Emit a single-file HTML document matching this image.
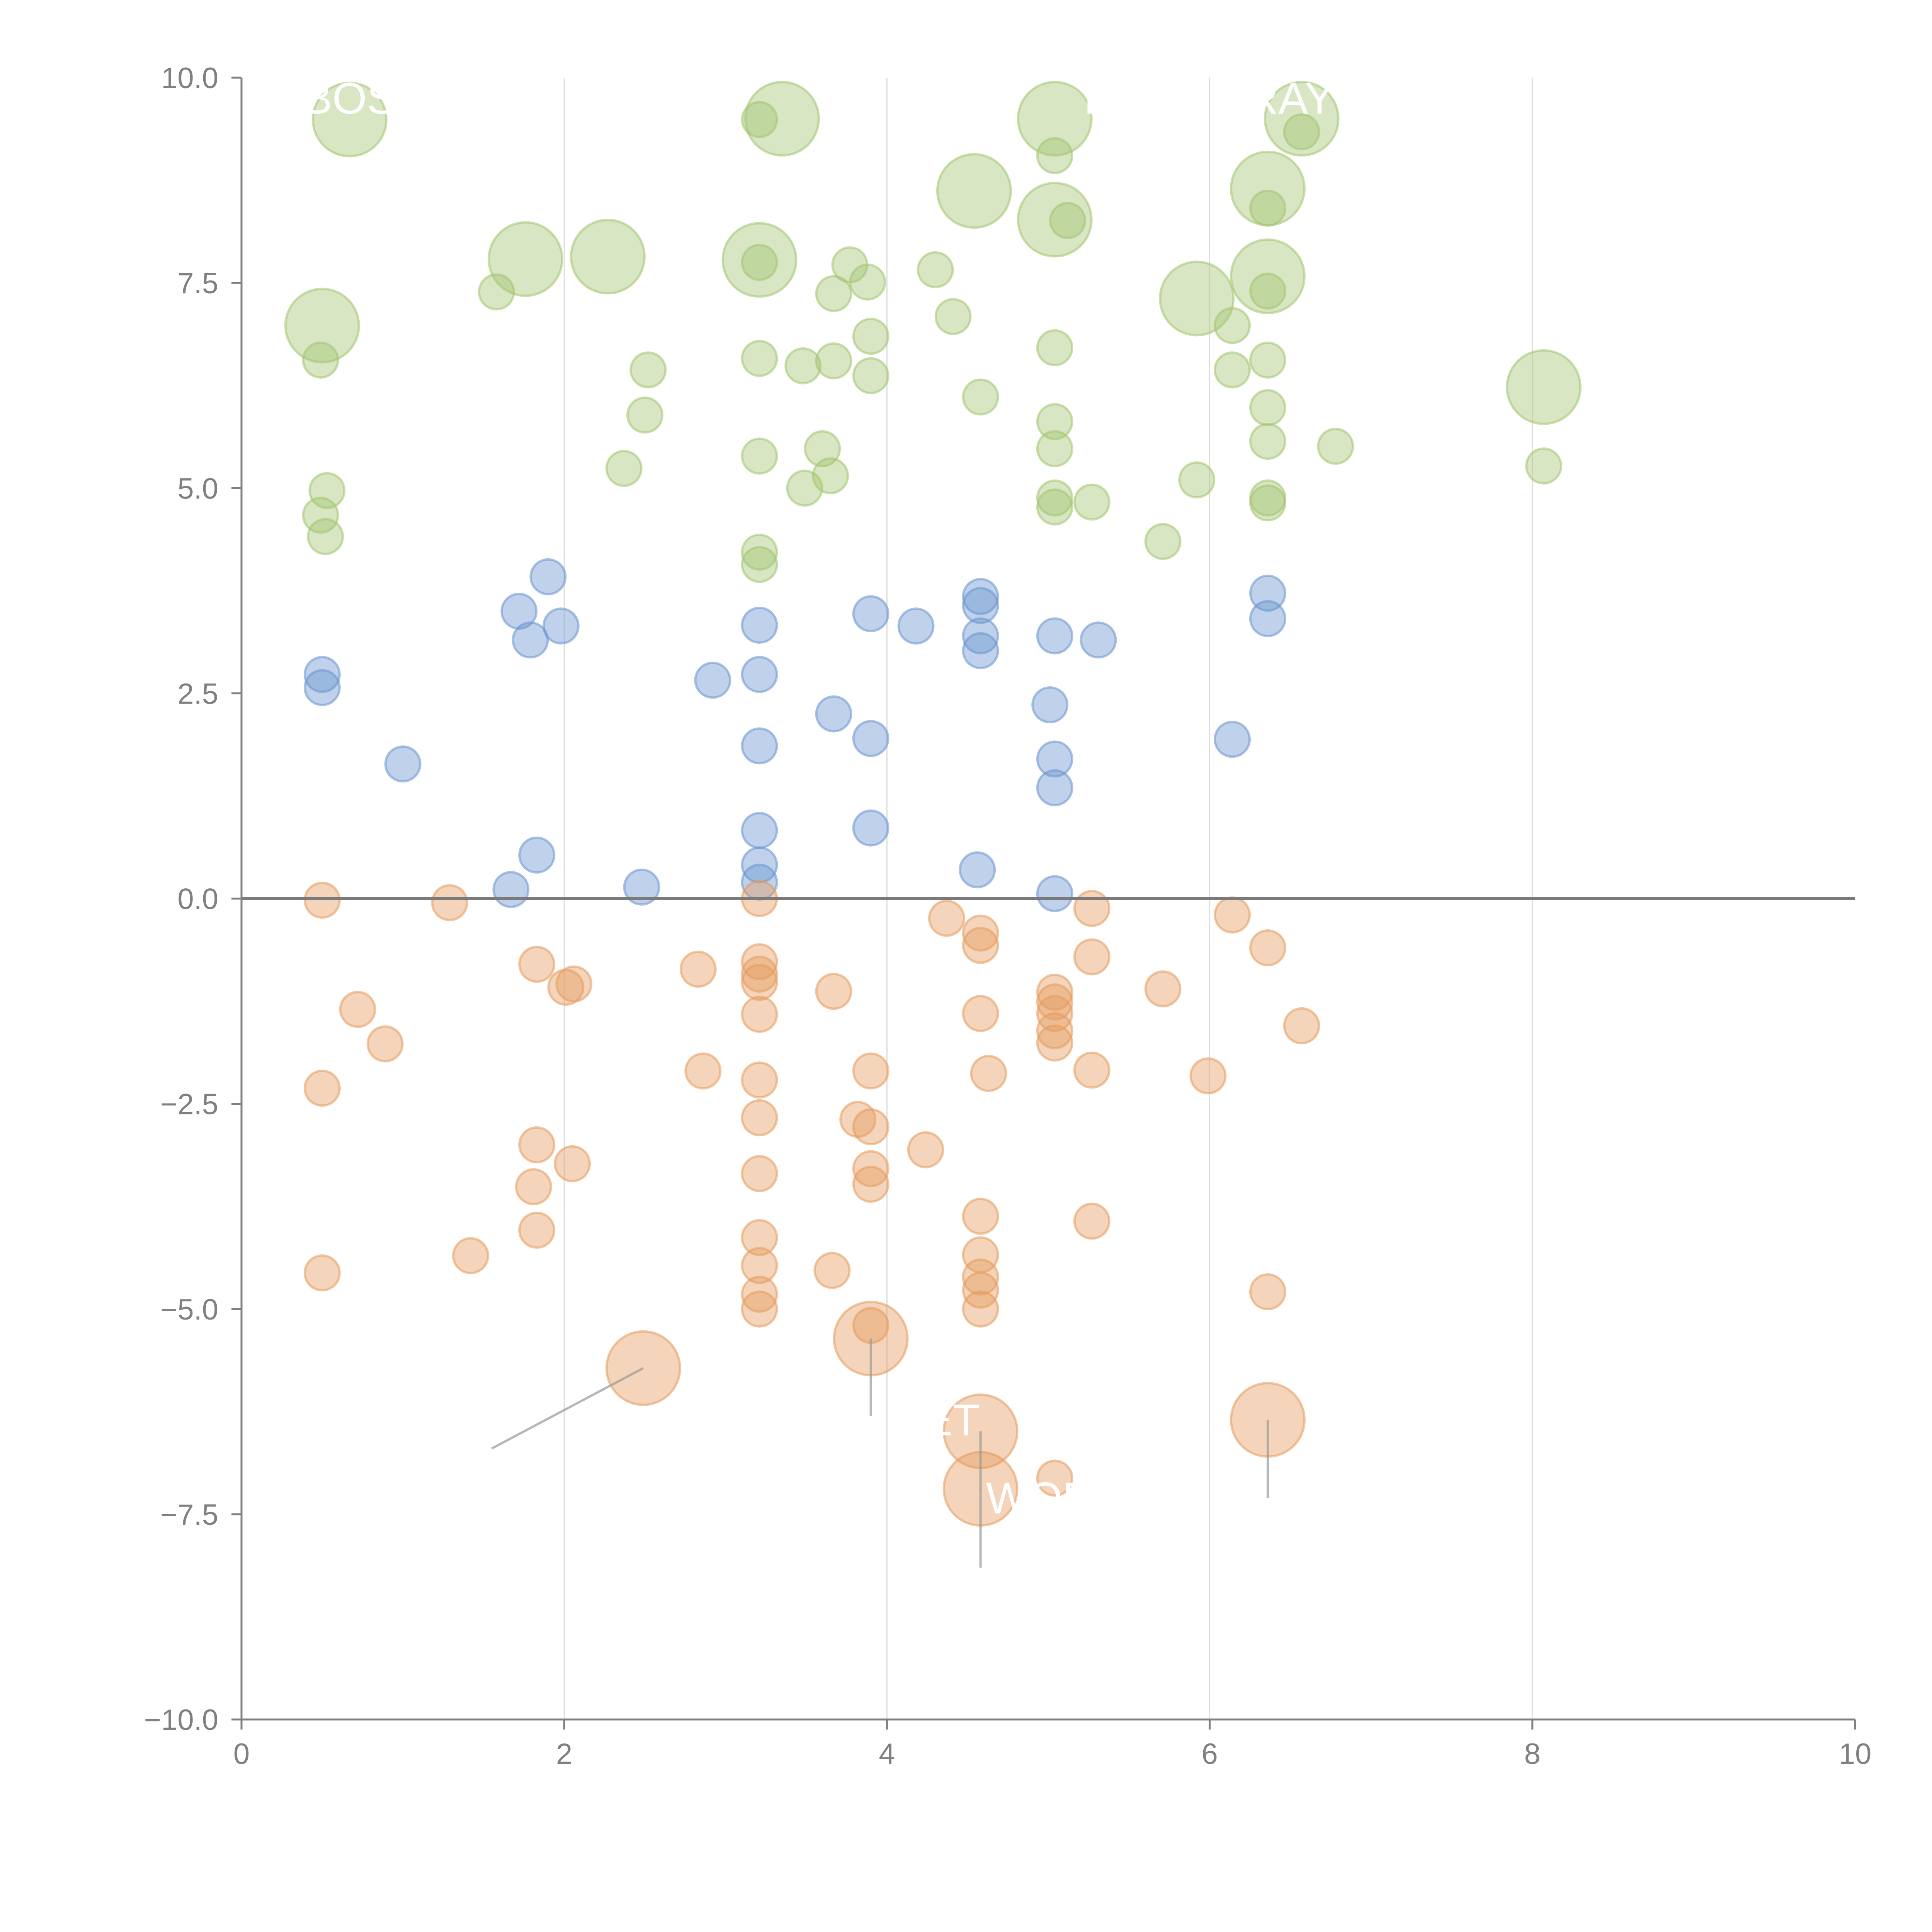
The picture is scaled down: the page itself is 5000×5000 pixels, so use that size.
<!DOCTYPE html>
<html><head><meta charset="utf-8"><style>
html,body{margin:0;padding:0;background:#fff;}
svg{display:block;}
text{font-family:"Liberation Sans",Arial,sans-serif;}
</style></head><body>
<svg id="chart" width="5000" height="5000" viewBox="0 0 5000 5000" xmlns="http://www.w3.org/2000/svg">
<g id="grid"></g>
<g id="marks"></g>
<g id="leaders"></g>
<g id="axes"></g>
<g id="labels"></g>
</svg>
<script>
const xTicks=[0,2,4,6,8,10];
const yTicks=[10,7.5,5,2.5,0,-2.5,-5,-7.5,-10];
const yTickLabels=["10.0","7.5","5.0","2.5","0.0","\u22122.5","\u22125.0","\u22127.5","\u221210.0"];
const xTickLabels=["0","2","4","6","8","10"];

const greenX=[0.49,0.53,0.49,0.52,1.58,2.52,2.50,2.37,3.21,3.21,3.21,3.21,3.21,3.21,3.48,3.49,3.6,3.65,3.67,3.67,3.77,3.88,3.9,3.9,4.3,4.41,4.58,5.04,5.12,5.04,5.04,5.04,5.04,5.04,5.27,5.71,5.92,6.14,6.14,6.36,6.36,6.36,6.36,6.36,6.36,6.36,6.57,6.78,8.07,
 0.67,0.5,1.76,2.27,3.21,3.35,4.54,5.04,5.04,5.92,6.36,6.36,6.57,8.07];
const greenY=[6.56,4.97,4.67,4.41,7.39,6.44,5.89,5.24,7.75,9.49,6.58,5.39,4.22,4.07,6.49,5.0,5.48,5.15,7.37,6.55,7.72,7.51,6.85,6.37,7.66,7.09,6.11,9.05,8.26,6.71,5.81,5.48,4.88,4.77,4.83,4.35,5.1,6.98,6.44,8.41,7.4,6.56,5.98,5.57,4.88,4.82,9.34,5.51,5.27,
 9.49,6.98,7.79,7.82,7.78,9.5,8.62,9.5,8.27,7.31,8.65,7.58,9.5,6.23];
const greenSize=[1,1,1,1,1,1,1,1,1,1,1,1,1,1,1,1,1,1,1,1,1,1,1,1,1,1,1,1,1,1,1,1,1,1,1,1,1,1,1,1,1,1,1,1,1,1,1,1,1,
 2,2,2,2,2,2,2,2,2,2,2,2,2,2];

const blueX=[0.5,0.5,1.0,1.72,1.79,1.9,1.98,1.67,1.83,2.48,2.92,3.21,3.21,3.21,3.21,3.21,3.21,3.67,3.9,3.9,3.9,4.18,4.58,4.58,4.58,4.58,4.56,5.01,5.04,5.04,5.04,5.04,5.31,6.14,6.36,6.36];
const blueY=[2.73,2.57,1.64,3.5,3.15,3.92,3.32,0.11,0.53,0.14,2.66,3.33,2.73,1.86,0.83,0.41,0.2,2.25,3.47,1.95,0.86,3.32,3.68,3.57,3.2,3.02,0.35,2.36,3.2,1.7,1.35,0.06,3.15,1.94,3.72,3.41];

const orangeX=[0.5,1.29,0.72,0.89,0.5,0.5,1.42,1.83,2.01,2.06,1.83,1.81,1.83,2.05,2.83,2.86,3.21,3.21,3.21,3.21,3.21,3.21,3.21,3.21,3.21,3.21,3.21,3.21,3.67,3.66,3.82,3.9,3.9,3.9,3.9,3.9,4.24,4.37,4.58,4.58,4.58,4.63,4.58,4.58,4.58,4.58,4.58,5.04,5.04,5.04,5.04,5.04,5.27,5.27,5.27,5.27,5.04,5.71,5.99,6.14,6.36,6.57,6.36,
 2.49,3.9,4.58,4.58,6.36];
const orangeY=[-0.02,-0.05,-1.35,-1.77,-2.31,-4.56,-4.35,-0.8,-1.08,-1.04,-3.0,-3.51,-4.04,-3.23,-0.86,-2.1,0,-0.77,-0.92,-1.02,-1.41,-2.21,-2.67,-3.35,-4.13,-4.47,-4.82,-5.0,-1.13,-4.53,-2.69,-2.1,-2.78,-3.29,-3.48,-5.2,-3.06,-0.24,-0.42,-0.57,-1.4,-2.13,-3.87,-4.34,-4.61,-4.77,-5.0,-1.14,-1.26,-1.4,-1.61,-1.76,-0.12,-0.71,-2.09,-3.93,-7.06,-1.1,-2.16,-0.2,-0.6,-1.55,-4.79,
 -5.72,-5.36,-6.49,-7.19,-6.35];
const orangeSize=[1,1,1,1,1,1,1,1,1,1,1,1,1,1,1,1,1,1,1,1,1,1,1,1,1,1,1,1,1,1,1,1,1,1,1,1,1,1,1,1,1,1,1,1,1,1,1,1,1,1,1,1,1,1,1,1,1,1,1,1,1,1,1,
 2,2,2,2,2];

const leaderFromX=[2.49,3.9,4.58,4.58,6.36];
const leaderFromY=[-5.72,-5.36,-6.49,-7.19,-6.35];
const leaderToX=[1.55,3.9,4.58,4.58,6.36];
const leaderToY=[-6.7,-6.3,-7.2,-8.15,-7.3];

const labelText=["BOS","PHI","RAY","DET","WOR"];
const labelX=[0.67,5.45,6.5,4.3,4.95];
const labelY=[9.75,9.75,9.75,-6.35,-7.3];

const L=625,R=4801,T=201,B=4450;
const sx=v=>L+(v-0)/(10-0)*(R-L);
const sy=v=>T+(10-v)/(20)*(B-T);
const NS="http://www.w3.org/2000/svg";
function mk(tag,parent,attrs){const e=document.createElementNS(NS,tag);for(const k in attrs)e.setAttribute(k,attrs[k]);parent.appendChild(e);return e;}

const grid=document.getElementById('grid');
xTicks.forEach(t=>{ if(t===0||t===10) return;
  const l=mk('line',grid,{x1:sx(t),x2:sx(t),y1:T,y2:B,stroke:'#dcdcdc','stroke-width':3});
  
  
});

const marks=document.getElementById('marks');
const rad=s=>s===2?95:45;
function drawSeries(xs,ys,ss,col,name){
  xs.forEach((x,i)=>{
    const c=mk('circle',marks,{cx:sx(x),cy:sy(ys[i]),r:rad(ss?ss[i]:1),fill:col,'fill-opacity':0.42,stroke:col,'stroke-opacity':0.55,'stroke-width':6});
    
    
  });
}
drawSeries(greenX,greenY,greenSize,'#a3c46f','green');
drawSeries(blueX,blueY,null,'#6a93cf','blue');
drawSeries(orangeX,orangeY,orangeSize,'#e59a5c','orange');

const z=mk('line',document.getElementById('axes'),{x1:L,x2:R,y1:sy(0),y2:sy(0),stroke:'#7a7a7a','stroke-width':7});



const leaders=document.getElementById('leaders');
leaderFromX.forEach((x,i)=>{
  const l=mk('line',leaders,{x1:sx(x),y1:sy(leaderFromY[i]),x2:sx(leaderToX[i]),y2:sy(leaderToY[i]),stroke:'#999','stroke-opacity':0.7,'stroke-width':6});
  
  
});

const axes=document.getElementById('axes');
const ya=mk('line',axes,{x1:L,x2:L,y1:T,y2:B,stroke:'#808080','stroke-width':5});


const xa=mk('line',axes,{x1:L,x2:R,y1:B,y2:B,stroke:'#808080','stroke-width':5});


yTicks.forEach((t,i)=>{
  const tk=mk('line',axes,{x1:L-26,x2:L,y1:sy(t),y2:sy(t),stroke:'#808080','stroke-width':5});
  
  
  const tx=mk('text',axes,{x:L-60,y:sy(t)+27,'text-anchor':'end','font-size':76,fill:'#808080'});
  tx.textContent=yTickLabels[i];
  
  
});
xTicks.forEach((t,i)=>{
  const tk=mk('line',axes,{x1:sx(t),x2:sx(t),y1:B,y2:B+26,stroke:'#808080','stroke-width':5});
  
  
  const tx=mk('text',axes,{x:sx(t),y:B+115,'text-anchor':'middle','font-size':76,fill:'#808080'});
  tx.textContent=xTickLabels[i];
  
  
});

const labels=document.getElementById('labels');
labelText.forEach((s,i)=>{
  const tx=mk('text',labels,{x:sx(labelX[i]),y:sy(labelY[i])+40,'text-anchor':'middle','font-size':115,fill:'#ffffff'});
  tx.textContent=s;
  
  
});
</script>
</body></html>
